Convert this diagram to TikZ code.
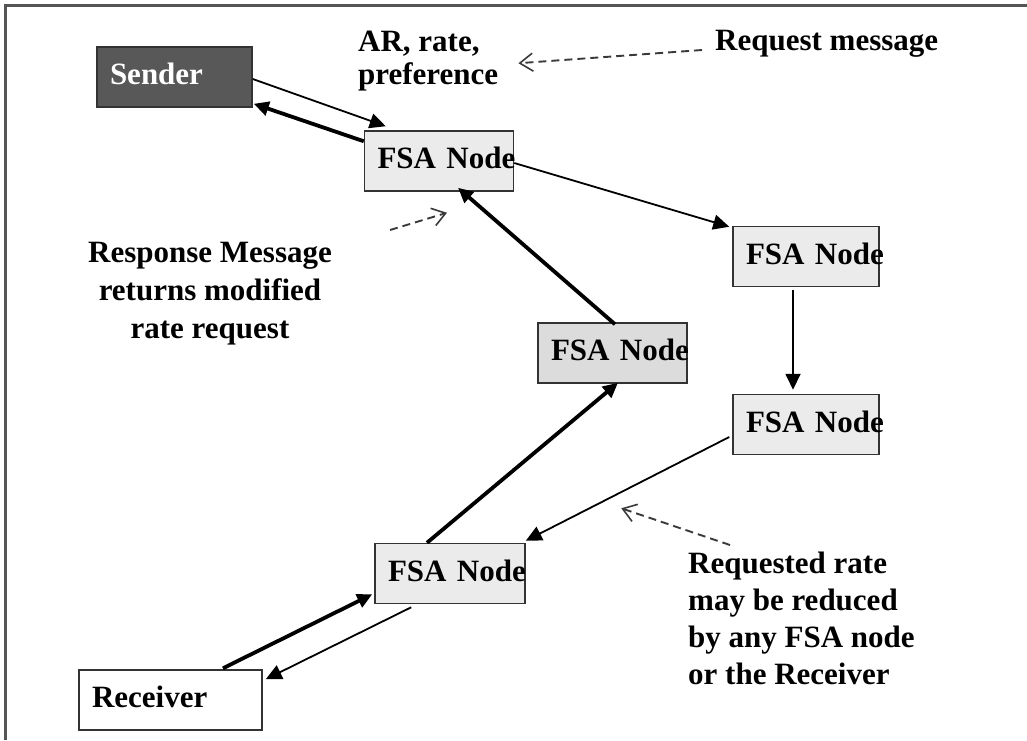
\documentclass[tikz,border=0pt]{standalone}
\usepackage{fontspec}
\setmainfont{Liberation Serif}
\usetikzlibrary{arrows.meta,calc}
\definecolor{framegray}{HTML}{555555}
\definecolor{boxline}{HTML}{333333}
\definecolor{senderfill}{HTML}{585858}
\definecolor{fsafill}{HTML}{EBEBEB}
\definecolor{fsamidfill}{HTML}{DCDCDC}
\definecolor{notegray}{HTML}{3A3A3A}

\begin{document}
\begin{tikzpicture}[x=1pt, y=-1pt,
  box/.style={draw=boxline, line width=1.5pt, inner xsep=13pt, inner ysep=0pt,
    minimum height=60pt, text height=21pt, text depth=6pt, align=left,
    font=\fontsize{31}{37}\selectfont\bfseries},
  fsa/.style={box, fill=fsafill, text width=123pt},
  reqline/.style={line width=1.8pt, -{Triangle[length=16pt,width=15pt]}},
  respline/.style={line width=3.8pt, -{Triangle[length=15pt,width=14pt]}},
  note/.style={font=\fontsize{31}{37}\selectfont\bfseries, inner sep=0pt},
  hint/.style={draw=notegray, line width=1.9pt, dash pattern=on 8pt off 5pt,
    -{Straight Barb[length=13pt,width=18pt,line width=1.6pt]}}]
\useasboundingbox (0,0) rectangle (1027,740);
\draw[framegray, line width=3pt] (5,740) -- (5,5.5) -- (1027,5.5);

\node[box, fill=senderfill, text=white, text width=129pt] (sender) at (174.5,77) {Sender};
\node[fsa] (fsa1) at (439,161) {FSA~Node};
\node[fsa, text width=120pt] (fsa2) at (806,256.5) {FSA~Node};
\node[fsa, fill=fsamidfill] (fsamid) at (612.5,353) {FSA~Node};
\node[fsa, text width=120pt] (fsa3) at (806,424.5) {FSA~Node};
\node[fsa, text width=124pt] (fsa4) at (450,573.5) {FSA~Node};
\node[box, fill=white, text width=157pt] (receiver) at (170.5,700) {Receiver};

\node[note, anchor=north west, align=left, font=\fontsize{31}{33}\selectfont\bfseries] (arnote) at (358,31) {AR, rate,\\preference};
\node[note, anchor=base west] (reqmsg) at (715,50) {Request message};
\node[note, anchor=north, align=center, font=\fontsize{31}{38}\selectfont\bfseries] (respmsg) at (210,242) {Response Message\\returns modified\\rate request};
\node[note, anchor=north west, align=left] (reqrate) at (688,552) {Requested rate\\may be reduced\\by any FSA node\\or the Receiver};

% request path
\draw[reqline] ($(sender.east)+(0,2)$) -- ($(fsa1.north west)+(22,-4)$);
\draw[reqline] ($(fsa1.east)+(0,2)$) -- ($(fsa2.north west)+(-3,1)$);
\draw[reqline] ($(fsa2.south)+(-13,3)$) -- ($(fsa3.north)+(-13,-4)$);
\draw[reqline] ($(fsa3.west)+(-3,12.5)$) -- ($(fsa4.north east)+(0,-2)$);
\draw[reqline] ($(fsa4.south west)+(37,3)$) -- ($(receiver.north east)+(3,10)$);

% response path
\draw[respline] ($(receiver.north)+(52.5,-1)$) -- ($(fsa4.south west)+(-2,-10)$);
\draw[respline] ($(fsa4.north)+(-23,0)$) -- ($(fsamid.south)+(5.5,-1)$);
\draw[respline] ($(fsamid.north)+(2.5,2)$) -- ($(fsa1.south)+(19,-4)$);
\draw[respline] ($(fsa1.north west)+(0,11)$) -- ($(sender.south east)+(1,-4)$);

% notes
\draw[hint] ($(reqmsg.base west)+(-13,0)$) -- ($(arnote.east)+(20,2)$);
\draw[hint] ($(respmsg.north east)+(58,-12)$) -- ($(fsa1.south)+(8,21)$);
\draw[hint] ($(reqrate.north west)+(42,-7)$) -- ($(fsa3.south west)+(-111,53)$);
\end{tikzpicture}
\end{document}
